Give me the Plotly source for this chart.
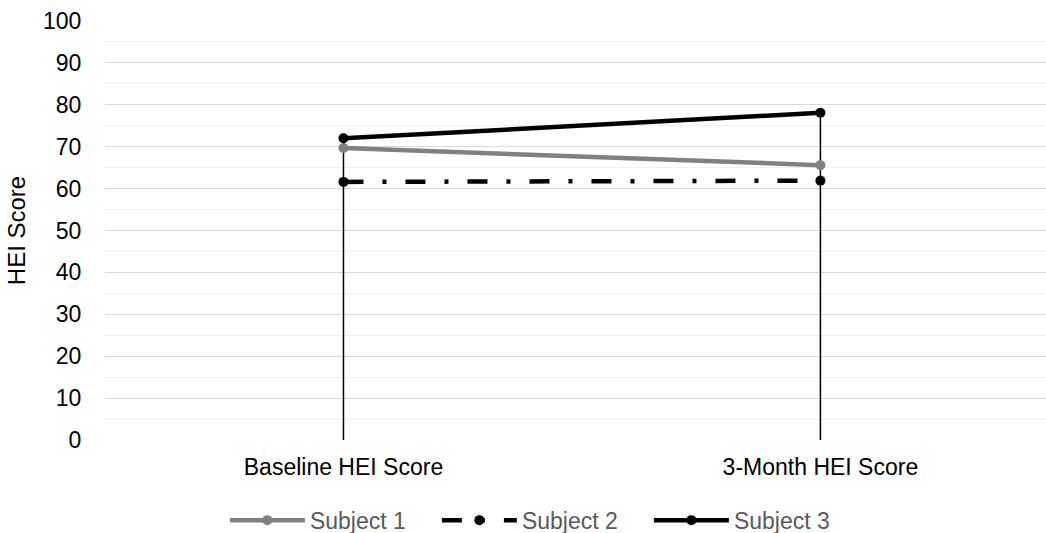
import plotly.graph_objects as go

categories = ["Baseline HEI Score", "3-Month HEI Score"]
subject1 = [69.7, 65.6]
subject2 = [61.6, 61.9]
subject3 = [72.0, 78.1]
y_ticks = list(range(0, 101, 10))

series = [
    ("Subject 1", subject1, "#808080", "solid"),
    ("Subject 2", subject2, "#000000", "20px,19px,4px,19px"),
    ("Subject 3", subject3, "#000000", "solid"),
]

fig = go.Figure()

# drop lines from the highest value down to zero at each category
drop_x, drop_y = [], []
for i, c in enumerate(categories):
    top = max(s[1][i] for s in series)
    drop_x += [c, c, None]
    drop_y += [0, top, None]
fig.add_trace(go.Scatter(x=drop_x, y=drop_y, mode="lines",
                         line=dict(color="#000000", width=1.5),
                         showlegend=False, hoverinfo="skip"))

for name, vals, color, dash in series:
    fig.add_trace(go.Scatter(
        x=categories, y=vals, name=name, mode="lines+markers",
        line=dict(color=color, width=4.5, dash=dash),
        marker=dict(color=color, size=10),
    ))

fig.update_layout(
    width=1046, height=533,
    margin=dict(l=105, r=0, t=21, b=93, autoexpand=False),
    paper_bgcolor="white", plot_bgcolor="white",
    font=dict(family="Liberation Sans, Arial, sans-serif", size=23, color="#000000"),
    showlegend=True,
    legend=dict(orientation="h", xref="container", yref="container",
                x=0.215, xanchor="left", y=0.024, yanchor="middle",
                font=dict(size=23, color="#595959"),
                itemwidth=75, entrywidth=122, entrywidthmode="pixels",
                tracegroupgap=0),
    xaxis=dict(type="category", range=[-0.5, 1.473], showgrid=False,
               showline=False, zeroline=False,
               ticks="outside", ticklen=6, tickcolor="rgba(0,0,0,0)",
               tickfont=dict(size=23, color="#000000")),
    yaxis=dict(range=[0, 100], tickvals=y_ticks, showgrid=True, gridcolor="#d9d9d9",
               gridwidth=1, zeroline=False, showline=False,
               ticks="outside", ticklen=18, tickcolor="rgba(0,0,0,0)",
               minor=dict(dtick=5, showgrid=True, gridcolor="#f0f0f0", gridwidth=1),
               title=dict(text="HEI Score", font=dict(size=24, color="#000000"), standoff=10),
               tickfont=dict(size=23, color="#000000")),
)

fig.write_html("out.html", config={"displayModeBar": False},
               post_script="document.body.style.margin='0';document.body.style.overflow='hidden';")
